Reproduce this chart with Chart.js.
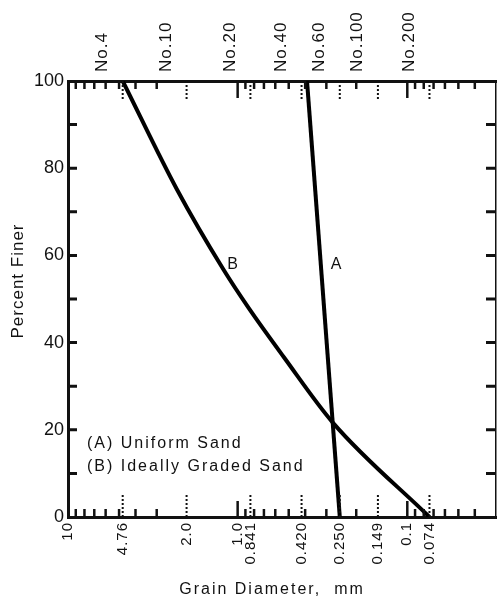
<!DOCTYPE html>
<html>
<head>
<meta charset="utf-8">
<script src="https://cdn.jsdelivr.net/npm/chart.js@4.4.1/dist/chart.umd.min.js"></script>
<style>
  html, body { margin: 0; padding: 0; background: #fff; }
</style>
</head>
<body>
<canvas id="grafico" width="497" height="598"></canvas>
<script>
// curva A - areia uniforme
const diamA = [0.39, 0.25];
const finerA = [100, 0];

// curva B - areia bem graduada
const diamB = [4.76, 2.27, 1.21, 0.86, 0.535, 0.274, 0.074];
const finerB = [100, 75, 56.7, 47.9, 36.7, 21.6, 0];

// eixo inferior (mm)
const diamTicks = [10, 4.76, 2.0, 1.0, 0.841, 0.420, 0.250, 0.149, 0.1, 0.074];
const diamTickLabels = ['10', '4.76', '2.0', '1.0', '0.841', '0.420', '0.250', '0.149', '0.1', '0.074'];

// eixo superior (peneiras)
const sieveSizes = [4.76, 2.0, 0.841, 0.420, 0.250, 0.149, 0.074];
const sieveNames = ['No.4', 'No.10', 'No.20', 'No.40', 'No.60', 'No.100', 'No.200'];

// marcas pequenas do eixo log
const minorTicks = [9, 8, 7, 6, 5, 4, 3, 0.9, 0.8, 0.7, 0.6, 0.5, 0.4, 0.3, 0.2, 0.09, 0.08, 0.07, 0.06, 0.05, 0.04];
const longTicks = [1.0, 0.1];

// eixo y
const finerTicks = [0, 20, 40, 60, 80, 100];
const finerMarks = [10, 20, 30, 40, 50, 60, 70, 80, 90];

// textos
const curveNames = ['A', 'B'];
const curveNameDiam = [0.263, 1.07];
const curveNameFiner = [58, 58];
const legendLines = ['(A) Uniform Sand', '(B) Ideally Graded Sand'];

const FONTE = "'Liberation Sans', Arial, sans-serif";

function pontos(xs, ys) {
    return xs.map((x, i) => ({ x: x, y: ys[i] }));
}

// Marcas internas, legenda e títulos
const marcasPlugin = {
    id: 'marcas',
    beforeDraw(chart) {
        // espaçamento só para os rótulos dos eixos x (desenhados antes das curvas)
        chart.ctx.letterSpacing = '1px';
    },
    afterDatasetsDraw(chart) {
        chart.ctx.letterSpacing = '0px';
    },
    afterDraw(chart) {
        const ctx = chart.ctx;
        const xs = chart.scales.x;
        const ys = chart.scales.y;
        const a = chart.chartArea;
        ctx.save();
        ctx.strokeStyle = '#111';
        ctx.lineWidth = 2.5;

        function vert(px, y0, len) {
            ctx.beginPath();
            ctx.moveTo(px, y0);
            ctx.lineTo(px, y0 + len);
            ctx.stroke();
        }

        minorTicks.forEach(v => {
            const px = xs.getPixelForValue(v);
            vert(px, a.bottom, -8);
            vert(px, a.top, 8);
        });
        longTicks.forEach(v => {
            const px = xs.getPixelForValue(v);
            vert(px, a.bottom, -16);
            vert(px, a.top, 17);
        });

        ctx.setLineDash([2, 2]);
        ctx.lineWidth = 2;
        sieveSizes.forEach(v => {
            const px = xs.getPixelForValue(v);
            vert(px, a.bottom, -22);
            vert(px, a.top, 20);
        });
        ctx.setLineDash([]);

        ctx.lineWidth = 3;
        finerMarks.forEach(v => {
            const py = ys.getPixelForValue(v);
            ctx.beginPath();
            ctx.moveTo(a.left, py);
            ctx.lineTo(a.left + 9, py);
            ctx.moveTo(a.right, py);
            ctx.lineTo(a.right - 10, py);
            ctx.stroke();
        });

        ctx.fillStyle = '#111';
        ctx.font = '16px ' + FONTE;
        ctx.textBaseline = 'middle';
        ctx.textAlign = 'center';
        ctx.letterSpacing = '0px';
        curveNames.forEach((n, i) => {
            ctx.fillText(n, xs.getPixelForValue(curveNameDiam[i]), ys.getPixelForValue(curveNameFiner[i]));
        });

        ctx.textBaseline = 'alphabetic';
        ctx.textAlign = 'left';
        ctx.letterSpacing = '2px';
        legendLines.forEach((t, i) => {
            ctx.fillText(t, a.left + 19, 448 + i * 23);
        });

        ctx.textAlign = 'center';
        ctx.fillText('Grain Diameter,  mm', 272, 594);

        ctx.font = '17px ' + FONTE;
        ctx.translate(23, 281);
        ctx.rotate(-Math.PI / 2);
        ctx.letterSpacing = '1px';
        ctx.fillText('Percent Finer', 0, 0);
        ctx.restore();
    }
};

function eixoLog(posicao, valores, textos, altura, padding, tamanho) {
    return {
        type: 'logarithmic',
        position: posicao,
        reverse: true,
        min: 0.03,
        max: 10,
        grid: { display: false, drawTicks: false, tickLength: 0 },
        border: { display: true, color: '#111', width: 3 },
        afterBuildTicks: s => { s.ticks = valores.map(v => ({ value: v })); },
        afterFit: s => { s.height = altura; },
        ticks: {
            autoSkip: false,
            minRotation: 90,
            maxRotation: 90,
            padding: padding,
            color: '#111',
            font: { family: FONTE, size: tamanho },
            callback: (v, i) => textos[i]
        }
    };
}

new Chart(document.getElementById('grafico').getContext('2d'), {
    type: 'line',
    data: {
        datasets: [
            {
                label: 'A',
                data: pontos(diamA, finerA),
                borderColor: '#000',
                borderWidth: 4,
                pointRadius: 0,
                xAxisID: 'x',
                yAxisID: 'y'
            },
            {
                label: 'B',
                data: pontos(diamB, finerB),
                borderColor: '#000',
                borderWidth: 4,
                pointRadius: 0,
                cubicInterpolationMode: 'monotone',
                xAxisID: 'x',
                yAxisID: 'y'
            }
        ]
    },
    options: {
        responsive: false,
        animation: false,
        devicePixelRatio: 1,
        layout: { padding: 0 },
        plugins: { legend: { display: false }, tooltip: { enabled: false } },
        scales: {
            x: eixoLog('bottom', diamTicks, diamTickLabels, 81, 5, 15),
            x2: eixoLog('top', sieveSizes, sieveNames, 81, 9, 17),
            y: {
                type: 'linear',
                position: 'left',
                min: 0,
                max: 100,
                grid: { display: false, drawTicks: false, tickLength: 0 },
                border: { display: true, color: '#111', width: 3 },
                afterBuildTicks: s => { s.ticks = finerTicks.map(v => ({ value: v })); },
                afterFit: s => { s.width = 68; },
                ticks: {
                    z: 1,
                    padding: 4,
                    color: '#111',
                    font: { family: FONTE, size: 18 },
                    callback: v => String(v)
                }
            },
            y2: {
                type: 'linear',
                position: 'right',
                min: 0,
                max: 100,
                grid: { display: false },
                border: { display: true, color: '#111', width: 1.5 },
                ticks: { display: false },
                afterFit: s => { s.width = 1; }
            }
        }
    },
    plugins: [marcasPlugin]
});
</script>
</body>
</html>
